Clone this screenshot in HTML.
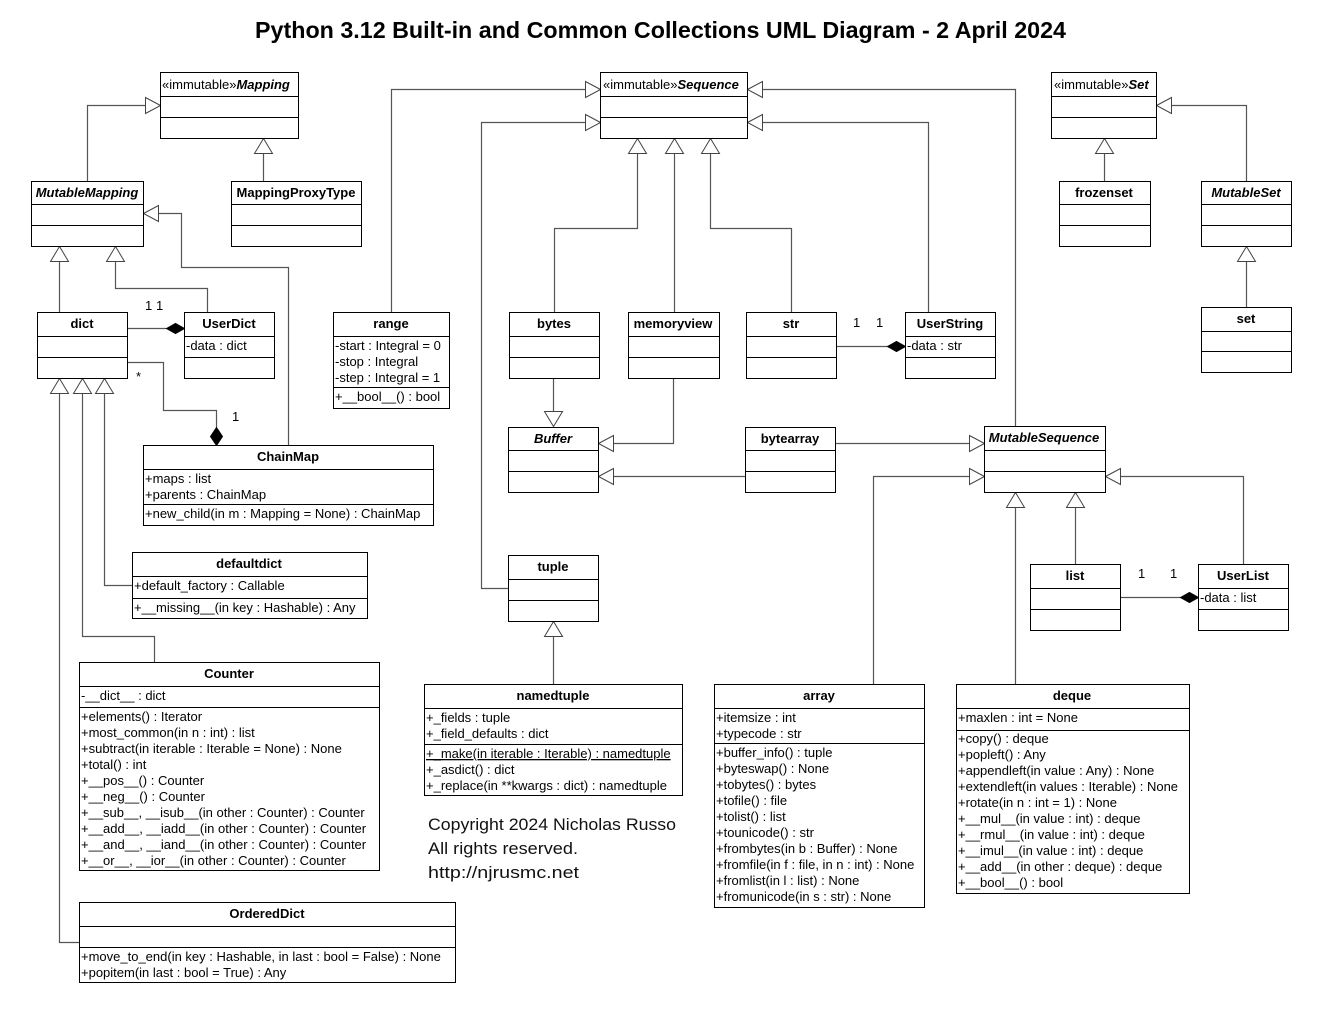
<!DOCTYPE html>
<html><head><meta charset="utf-8"><style>
html,body{margin:0;padding:0;background:#fff;}
svg{display:block;}
.t{font-family:"Liberation Sans",Arial,sans-serif;font-size:13px;fill:#000;}
.b{font-weight:bold;}
.bi{font-weight:bold;font-style:italic;}
.box{fill:#fff;stroke:#000;stroke-width:1;}
.ln{fill:none;stroke:#555;stroke-width:1.2;}
.tri{fill:#fff;stroke:#444;stroke-width:1;}
.dia{fill:#000;stroke:#000;stroke-width:1;}
</style></head><body>
<svg width="1320" height="1020" viewBox="0 0 1320 1020" xmlns="http://www.w3.org/2000/svg">
<rect width="1320" height="1020" fill="#fff"/>
<text x="255" y="38" font-family="Liberation Sans, Arial, sans-serif" font-weight="bold" font-size="23" textLength="811" lengthAdjust="spacingAndGlyphs">Python 3.12 Built-in and Common Collections UML Diagram - 2 April 2024</text>

<g transform="translate(0.5,0.5)">
<!-- connectors -->
<polyline class="ln" points="87,181 87,105 145,105"/>
<polyline class="ln" points="263,181 263,153"/>
<polyline class="ln" points="59,312 59,261"/>
<polyline class="ln" points="207,312 207,288 115,288 115,261"/>
<polyline class="ln" points="288,445 288,267 181,267 181,213 158,213"/>
<polyline class="ln" points="79,942 59,942 59,393"/>
<polyline class="ln" points="154,662 154,636 82,636 82,393"/>
<polyline class="ln" points="132,585 104,585 104,393"/>
<polyline class="ln" points="391,312 391,89 585,89"/>
<polyline class="ln" points="508,588 481,588 481,122 585,122"/>
<polyline class="ln" points="554,312 554,228 637,228 637,153"/>
<polyline class="ln" points="674,312 674,153"/>
<polyline class="ln" points="791,312 791,228 710,228 710,153"/>
<polyline class="ln" points="928,312 928,122 762,122"/>
<polyline class="ln" points="1015,426 1015,89 762,89"/>
<polyline class="ln" points="1104,181 1104,153"/>
<polyline class="ln" points="1246,181 1246,105 1171,105"/>
<polyline class="ln" points="1246,307 1246,261"/>
<polyline class="ln" points="553,378 553,411"/>
<polyline class="ln" points="673,378 673,443 613,443"/>
<polyline class="ln" points="745,476 613,476"/>
<polyline class="ln" points="835,443 969,443"/>
<polyline class="ln" points="873,684 873,476 969,476"/>
<polyline class="ln" points="1015,684 1015,507"/>
<polyline class="ln" points="1075,564 1075,507"/>
<polyline class="ln" points="1243,564 1243,476 1120,476"/>
<polyline class="ln" points="553,684 553,636"/>
<!-- composition lines -->
<polyline class="ln" points="127,328 166,328"/>
<polyline class="ln" points="127,362 163,362 163,410 216,410 216,427"/>
<polyline class="ln" points="836,346 887,346"/>
<polyline class="ln" points="1120,597 1180,597"/>

<!-- triangles: up -->
<polygon class="tri" points="263,138 254,153 272,153"/>
<polygon class="tri" points="59,246 50,261 68,261"/>
<polygon class="tri" points="115,246 106,261 124,261"/>
<polygon class="tri" points="59,378 50,393 68,393"/>
<polygon class="tri" points="82,378 73,393 91,393"/>
<polygon class="tri" points="104,378 95,393 113,393"/>
<polygon class="tri" points="637,138 628,153 646,153"/>
<polygon class="tri" points="674,138 665,153 683,153"/>
<polygon class="tri" points="710,138 701,153 719,153"/>
<polygon class="tri" points="1104,138 1095,153 1113,153"/>
<polygon class="tri" points="1246,246 1237,261 1255,261"/>
<polygon class="tri" points="1015,492 1006,507 1024,507"/>
<polygon class="tri" points="1075,492 1066,507 1084,507"/>
<polygon class="tri" points="553,621 544,636 562,636"/>
<!-- down -->
<polygon class="tri" points="553,426 544,411 562,411"/>
<!-- right pointing -->
<polygon class="tri" points="160,105 145,97 145,113"/>
<polygon class="tri" points="600,89 585,81 585,97"/>
<polygon class="tri" points="600,122 585,114 585,130"/>
<polygon class="tri" points="984,443 969,435 969,451"/>
<polygon class="tri" points="984,476 969,468 969,484"/>
<!-- left pointing -->
<polygon class="tri" points="143,213 158,205 158,221"/>
<polygon class="tri" points="747,122 762,114 762,130"/>
<polygon class="tri" points="747,89 762,81 762,97"/>
<polygon class="tri" points="1156,105 1171,97 1171,113"/>
<polygon class="tri" points="598,443 613,435 613,451"/>
<polygon class="tri" points="598,476 613,468 613,484"/>
<polygon class="tri" points="1105,476 1120,468 1120,484"/>

<!-- diamonds -->
<polygon class="dia" points="166,328 175,323 184,328 175,333"/>
<polygon class="dia" points="216,427 210,436 216,445 222,436"/>
<polygon class="dia" points="887,346 896,341 905,346 896,351"/>
<polygon class="dia" points="1180,597 1189,592 1198,597 1189,602"/>

<!-- boxes -->
<rect class="box" x="160" y="72" width="138" height="66"/>
<line class="box" x1="160" y1="96" x2="298" y2="96"/><line class="box" x1="160" y1="117" x2="298" y2="117"/>
<rect class="box" x="31" y="181" width="112" height="65"/>
<line class="box" x1="31" y1="204" x2="143" y2="204"/><line class="box" x1="31" y1="225" x2="143" y2="225"/>
<rect class="box" x="231" y="181" width="130" height="65"/>
<line class="box" x1="231" y1="204" x2="361" y2="204"/><line class="box" x1="231" y1="225" x2="361" y2="225"/>
<rect class="box" x="37" y="312" width="90" height="66"/>
<line class="box" x1="37" y1="336" x2="127" y2="336"/><line class="box" x1="37" y1="357" x2="127" y2="357"/>
<rect class="box" x="184" y="312" width="90" height="66"/>
<line class="box" x1="184" y1="336" x2="274" y2="336"/><line class="box" x1="184" y1="357" x2="274" y2="357"/>
<rect class="box" x="333" y="312" width="116" height="96"/>
<line class="box" x1="333" y1="336" x2="449" y2="336"/><line class="box" x1="333" y1="387" x2="449" y2="387"/>
<rect class="box" x="600" y="72" width="147" height="66"/>
<line class="box" x1="600" y1="96" x2="747" y2="96"/><line class="box" x1="600" y1="117" x2="747" y2="117"/>
<rect class="box" x="509" y="312" width="90" height="66"/>
<line class="box" x1="509" y1="336" x2="599" y2="336"/><line class="box" x1="509" y1="357" x2="599" y2="357"/>
<rect class="box" x="628" y="312" width="91" height="66"/>
<line class="box" x1="628" y1="336" x2="719" y2="336"/><line class="box" x1="628" y1="357" x2="719" y2="357"/>
<rect class="box" x="746" y="312" width="90" height="66"/>
<line class="box" x1="746" y1="336" x2="836" y2="336"/><line class="box" x1="746" y1="357" x2="836" y2="357"/>
<rect class="box" x="905" y="312" width="90" height="66"/>
<line class="box" x1="905" y1="336" x2="995" y2="336"/><line class="box" x1="905" y1="357" x2="995" y2="357"/>
<rect class="box" x="1051" y="72" width="105" height="66"/>
<line class="box" x1="1051" y1="96" x2="1156" y2="96"/><line class="box" x1="1051" y1="117" x2="1156" y2="117"/>
<rect class="box" x="1059" y="181" width="91" height="65"/>
<line class="box" x1="1059" y1="204" x2="1150" y2="204"/><line class="box" x1="1059" y1="225" x2="1150" y2="225"/>
<rect class="box" x="1201" y="181" width="90" height="65"/>
<line class="box" x1="1201" y1="204" x2="1291" y2="204"/><line class="box" x1="1201" y1="225" x2="1291" y2="225"/>
<rect class="box" x="1201" y="307" width="90" height="65"/>
<line class="box" x1="1201" y1="331" x2="1291" y2="331"/><line class="box" x1="1201" y1="351" x2="1291" y2="351"/>
<rect class="box" x="143" y="445" width="290" height="80"/>
<line class="box" x1="143" y1="469" x2="433" y2="469"/><line class="box" x1="143" y1="504" x2="433" y2="504"/>
<rect class="box" x="132" y="552" width="235" height="66"/>
<line class="box" x1="132" y1="576" x2="367" y2="576"/><line class="box" x1="132" y1="598" x2="367" y2="598"/>
<rect class="box" x="508" y="427" width="90" height="65"/>
<line class="box" x1="508" y1="450" x2="598" y2="450"/><line class="box" x1="508" y1="471" x2="598" y2="471"/>
<rect class="box" x="745" y="427" width="90" height="65"/>
<line class="box" x1="745" y1="450" x2="835" y2="450"/><line class="box" x1="745" y1="471" x2="835" y2="471"/>
<rect class="box" x="984" y="426" width="121" height="66"/>
<line class="box" x1="984" y1="450" x2="1105" y2="450"/><line class="box" x1="984" y1="471" x2="1105" y2="471"/>
<rect class="box" x="508" y="555" width="90" height="66"/>
<line class="box" x1="508" y1="579" x2="598" y2="579"/><line class="box" x1="508" y1="600" x2="598" y2="600"/>
<rect class="box" x="1030" y="564" width="90" height="66"/>
<line class="box" x1="1030" y1="588" x2="1120" y2="588"/><line class="box" x1="1030" y1="609" x2="1120" y2="609"/>
<rect class="box" x="1198" y="564" width="90" height="66"/>
<line class="box" x1="1198" y1="588" x2="1288" y2="588"/><line class="box" x1="1198" y1="609" x2="1288" y2="609"/>
<rect class="box" x="79" y="662" width="300" height="208"/>
<line class="box" x1="79" y1="686" x2="379" y2="686"/><line class="box" x1="79" y1="707" x2="379" y2="707"/>
<rect class="box" x="79" y="902" width="376" height="80"/>
<line class="box" x1="79" y1="926" x2="455" y2="926"/><line class="box" x1="79" y1="947" x2="455" y2="947"/>
<rect class="box" x="424" y="684" width="258" height="111"/>
<line class="box" x1="424" y1="708" x2="682" y2="708"/><line class="box" x1="424" y1="744" x2="682" y2="744"/>
<rect class="box" x="714" y="684" width="210" height="223"/>
<line class="box" x1="714" y1="708" x2="924" y2="708"/><line class="box" x1="714" y1="743" x2="924" y2="743"/>
<rect class="box" x="956" y="684" width="233" height="209"/>
<line class="box" x1="956" y1="708" x2="1189" y2="708"/><line class="box" x1="956" y1="730" x2="1189" y2="730"/>
</g>

<g class="t">
<text x="162" y="89">«immutable»<tspan class="bi">Mapping</tspan></text>
<text x="603" y="89">«immutable»<tspan class="bi">Sequence</tspan></text>
<text x="1054" y="89">«immutable»<tspan class="bi">Set</tspan></text>

<g text-anchor="middle">
<text class="bi" x="87" y="197">MutableMapping</text>
<text class="b" x="296" y="197">MappingProxyType</text>
<text class="b" x="82" y="328">dict</text>
<text class="b" x="229" y="328">UserDict</text>
<text class="b" x="391" y="328">range</text>
<text class="b" x="554" y="328">bytes</text>
<text class="b" x="673" y="328">memoryview</text>
<text class="b" x="791" y="328">str</text>
<text class="b" x="950" y="328">UserString</text>
<text class="b" x="1104" y="197">frozenset</text>
<text class="bi" x="1246" y="197">MutableSet</text>
<text class="b" x="1246" y="323">set</text>
<text class="b" x="288" y="461">ChainMap</text>
<text class="b" x="249" y="568">defaultdict</text>
<text class="bi" x="553" y="443">Buffer</text>
<text class="b" x="790" y="443">bytearray</text>
<text class="bi" x="1044" y="442">MutableSequence</text>
<text class="b" x="553" y="571">tuple</text>
<text class="b" x="1075" y="580">list</text>
<text class="b" x="1243" y="580">UserList</text>
<text class="b" x="229" y="678">Counter</text>
<text class="b" x="267" y="918">OrderedDict</text>
<text class="b" x="553" y="700">namedtuple</text>
<text class="b" x="819" y="700">array</text>
<text class="b" x="1072" y="700">deque</text>
</g>

<text x="186" y="350">-data : dict</text>
<text x="907" y="350">-data : str</text>
<text x="1200" y="602">-data : list</text>

<text x="335" y="350">-start : Integral = 0</text>
<text x="335" y="366">-stop : Integral</text>
<text x="335" y="382">-step : Integral = 1</text>
<text x="335" y="401">+__bool__() : bool</text>

<text x="145" y="483">+maps : list</text>
<text x="145" y="499">+parents : ChainMap</text>
<text x="145" y="518">+new_child(in m : Mapping = None) : ChainMap</text>

<text x="134" y="590">+default_factory : Callable</text>
<text x="134" y="612">+__missing__(in key : Hashable) : Any</text>

<text x="81" y="700">-__dict__ : dict</text>
<text x="81" y="721">+elements() : Iterator</text>
<text x="81" y="737">+most_common(in n : int) : list</text>
<text x="81" y="753">+subtract(in iterable : Iterable = None) : None</text>
<text x="81" y="769">+total() : int</text>
<text x="81" y="785">+__pos__() : Counter</text>
<text x="81" y="801">+__neg__() : Counter</text>
<text x="81" y="817">+__sub__, __isub__(in other : Counter) : Counter</text>
<text x="81" y="833">+__add__, __iadd__(in other : Counter) : Counter</text>
<text x="81" y="849">+__and__, __iand__(in other : Counter) : Counter</text>
<text x="81" y="865">+__or__, __ior__(in other : Counter) : Counter</text>

<text x="81" y="961">+move_to_end(in key : Hashable, in last : bool = False) : None</text>
<text x="81" y="977">+popitem(in last : bool = True) : Any</text>

<text x="426" y="722">+_fields : tuple</text>
<text x="426" y="738">+_field_defaults : dict</text>
<text x="426" y="758" text-decoration="underline">+_make(in iterable : Iterable) : namedtuple</text>
<text x="426" y="774">+_asdict() : dict</text>
<text x="426" y="790">+_replace(in **kwargs : dict) : namedtuple</text>

<text x="716" y="722">+itemsize : int</text>
<text x="716" y="738">+typecode : str</text>
<text x="716" y="757">+buffer_info() : tuple</text>
<text x="716" y="773">+byteswap() : None</text>
<text x="716" y="789">+tobytes() : bytes</text>
<text x="716" y="805">+tofile() : file</text>
<text x="716" y="821">+tolist() : list</text>
<text x="716" y="837">+tounicode() : str</text>
<text x="716" y="853">+frombytes(in b : Buffer) : None</text>
<text x="716" y="869">+fromfile(in f : file, in n : int) : None</text>
<text x="716" y="885">+fromlist(in l : list) : None</text>
<text x="716" y="901">+fromunicode(in s : str) : None</text>

<text x="958" y="722">+maxlen : int = None</text>
<text x="958" y="743">+copy() : deque</text>
<text x="958" y="759">+popleft() : Any</text>
<text x="958" y="775">+appendleft(in value : Any) : None</text>
<text x="958" y="791">+extendleft(in values : Iterable) : None</text>
<text x="958" y="807">+rotate(in n : int = 1) : None</text>
<text x="958" y="823">+__mul__(in value : int) : deque</text>
<text x="958" y="839">+__rmul__(in value : int) : deque</text>
<text x="958" y="855">+__imul__(in value : int) : deque</text>
<text x="958" y="871">+__add__(in other : deque) : deque</text>
<text x="958" y="887">+__bool__() : bool</text>

<text x="145" y="310">1</text>
<text x="156" y="310">1</text>
<text x="136" y="381">*</text>
<text x="232" y="421">1</text>
<text x="853" y="327">1</text>
<text x="876" y="327">1</text>
<text x="1138" y="578">1</text>
<text x="1170" y="578">1</text>
</g>

<g font-family="Liberation Sans, Arial, sans-serif" font-size="17" fill="#111">
<text x="428" y="830" textLength="248" lengthAdjust="spacingAndGlyphs">Copyright 2024 Nicholas Russo</text>
<text x="428" y="854" textLength="150" lengthAdjust="spacingAndGlyphs">All rights reserved.</text>
<text x="428" y="878" textLength="151" lengthAdjust="spacingAndGlyphs">http://njrusmc.net</text>
</g>
</svg>
</body></html>
